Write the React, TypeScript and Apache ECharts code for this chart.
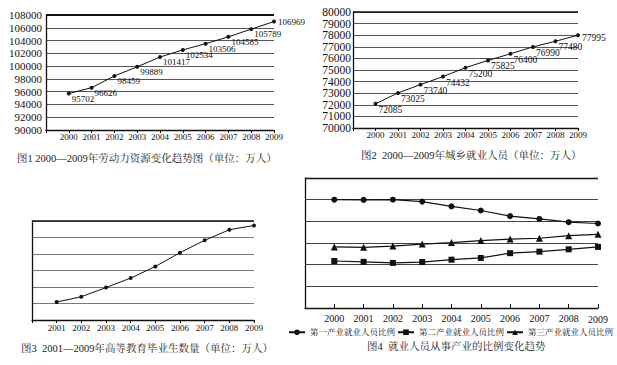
import React, { useEffect, useRef } from 'react';
import * as echarts from 'echarts';

const years10 = ['2000', '2001', '2002', '2003', '2004', '2005', '2006', '2007', '2008', '2009'];
const years9 = ['2001', '2002', '2003', '2004', '2005', '2006', '2007', '2008', '2009'];
const labourForce = [95702, 96626, 98459, 99889, 101417, 102534, 103506, 104585, 105789, 106969];
const employed = [72085, 73025, 73740, 74432, 75200, 75825, 76400, 76990, 77480, 77995];
const graduates = [109, 141, 197, 254, 324, 408, 483, 547, 573];
const primaryShare = [50.0, 49.9, 50.0, 49.1, 46.9, 45.0, 42.4, 41.1, 39.6, 39.0];
const secondaryShare = [21.7, 21.3, 20.8, 21.2, 22.3, 23.1, 25.3, 26.0, 27.1, 28.2];
const tertiaryShare = [28.2, 28.0, 28.6, 29.5, 30.2, 31.1, 31.8, 32.2, 33.4, 34.0];
const shareNames = ['第一产业就业人员比例', '第二产业就业人员比例', '第三产业就业人员比例'];
const captions = [
  '图1 2000—2009年劳动力资源变化趋势图（单位：万人）',
  '图2  2000—2009年城乡就业人员（单位：万人）',
  '图3  2001—2009年高等教育毕业生数量（单位：万人）',
  '图4  就业人员从事产业的比例变化趋势',
];

const FONT = "'Liberation Serif', 'Times New Roman', 'Noto Serif CJK SC', 'Noto Sans CJK SC', serif";
const INK = '#111';

function pad<T>(arr: T[]): (T | string)[] {
  return ['-', ...arr];
}

export default function App() {
  const ref = useRef<HTMLDivElement>(null);
  useEffect(() => {
    if (!ref.current) return;
    const chart = echarts.init(ref.current, null, { renderer: 'svg' });

    const catAxis = (gridIndex: number, cats: any[], fontSize: number, margin: number, tickInside: boolean) => ({
      type: 'category',
      gridIndex,
      data: ['', ...cats],
      boundaryGap: false,
      axisLine: { show: true, lineStyle: { color: INK, width: 1.3 } },
      axisTick: { show: true, inside: tickInside, length: tickInside ? 4 : 3, lineStyle: { color: INK } },
      axisLabel: { color: INK, fontSize, fontFamily: FONT, margin, interval: 0 },
      splitLine: { show: false },
    });

    const valAxis = (gridIndex: number, min: number, max: number, interval: number, showLabel: boolean, fontSize: number, margin: number, gridColor: string) => ({
      type: 'value',
      gridIndex,
      min,
      max,
      interval,
      axisLine: { show: true, lineStyle: { color: INK, width: 1.3 } },
      axisTick: { show: false },
      axisLabel: {
        show: showLabel,
        color: INK,
        fontSize,
        fontFamily: FONT,
        margin,
        showMinLabel: true,
        showMaxLabel: true,
        hideOverlap: false,
        formatter: (v: number) => String(v),
      },
      splitLine: { show: true, lineStyle: { color: gridColor, width: 1 } },
    });

    const topLine = (y: number, w: number) => ({
      silent: true,
      symbol: 'none',
      label: { show: false },
      lineStyle: { color: INK, width: w, type: 'solid' },
      data: [{ yAxis: y }],
    });

    const labelled = (vals: number[], lastOffset: number[]) =>
      pad(vals.map((v, i) => (i === vals.length - 1 ? { value: v, label: { offset: lastOffset } } : v)));

    const ext4 = years10.map((y, i) => (i === years10.length - 1 ? { value: y, textStyle: { padding: [2, 0, 0, 0] } } : y));

    const option: any = {
      animation: false,
      backgroundColor: '#fff',
      title: [
        { text: captions[0], left: 12, top: 148 },
        { text: captions[1], left: 356, top: 145 },
        { text: captions[2], left: 16, top: 338 },
        { text: captions[3], left: 362, top: 336 },
      ].map((t) => ({ ...t, textStyle: { fontSize: 10.5, fontWeight: 'normal', color: '#222', fontFamily: FONT } })),
      legend: {
        left: 288,
        top: 328,
        width: 329,
        padding: 0,
        itemWidth: 16,
        itemHeight: 7,
        itemGap: 2,
        textStyle: { fontSize: 8.5, color: INK, fontFamily: FONT },
        data: shareNames,
      },
      grid: [
        { left: 46, top: 15, right: 343, bottom: 235 },
        { left: 353, top: 12, right: 39, bottom: 237 },
        { left: 32, top: 221, right: 363, bottom: 45 },
        { left: 305, top: 178, right: 19, bottom: 57 },
      ],
      xAxis: [
        catAxis(0, years10, 9, 2, false),
        catAxis(1, years10, 9, 2, false),
        catAxis(2, years9, 9, 3, false),
        catAxis(3, ext4, 10, 5, true),
      ],
      yAxis: [
        valAxis(0, 90000, 108000, 2000, true, 11, 4, '#555'),
        valAxis(1, 70000, 80000, 1000, true, 11.5, 2, '#555'),
        valAxis(2, 0, 600, 100, false, 9, 2, '#777'),
        valAxis(3, 0, 60, 10, false, 9, 2, '#444'),
      ],
      series: [
        {
          type: 'line',
          xAxisIndex: 0,
          yAxisIndex: 0,
          data: labelled(labourForce, [1, 0]),
          symbol: 'circle',
          symbolSize: 4,
          itemStyle: { color: INK },
          lineStyle: { color: INK, width: 1 },
          label: { show: true, position: 'right', distance: 1, offset: [0, 5], fontSize: 9, color: INK, fontFamily: FONT },
          markLine: topLine(108000, 2),
        },
        {
          type: 'line',
          xAxisIndex: 1,
          yAxisIndex: 1,
          data: labelled(employed, [1, 3]),
          symbol: 'circle',
          symbolSize: 4,
          itemStyle: { color: INK },
          lineStyle: { color: INK, width: 1 },
          label: { show: true, position: 'right', distance: 1, offset: [0, 6], fontSize: 9.5, color: INK, fontFamily: FONT },
          markLine: topLine(80000, 1.5),
        },
        {
          type: 'line',
          xAxisIndex: 2,
          yAxisIndex: 2,
          data: pad(graduates),
          symbol: 'circle',
          symbolSize: 4,
          itemStyle: { color: INK },
          lineStyle: { color: INK, width: 1 },
          markLine: topLine(600, 1.6),
        },
        {
          name: shareNames[0],
          type: 'line',
          xAxisIndex: 3,
          yAxisIndex: 3,
          data: pad(primaryShare),
          symbol: 'circle',
          symbolSize: 6,
          itemStyle: { color: INK },
          lineStyle: { color: INK, width: 1.2 },
          markLine: topLine(60, 1.4),
        },
        {
          name: shareNames[1],
          type: 'line',
          xAxisIndex: 3,
          yAxisIndex: 3,
          data: pad(secondaryShare),
          symbol: 'rect',
          symbolSize: 6,
          itemStyle: { color: INK },
          lineStyle: { color: INK, width: 1.2 },
        },
        {
          name: shareNames[2],
          type: 'line',
          xAxisIndex: 3,
          yAxisIndex: 3,
          data: pad(tertiaryShare),
          symbol: 'triangle',
          symbolSize: 7,
          itemStyle: { color: INK },
          lineStyle: { color: INK, width: 1.2 },
        },
      ],
    };
    chart.setOption(option);
    return () => chart.dispose();
  }, []);

  return <div ref={ref} style={{ position: 'fixed', left: 0, top: 0, width: 617, height: 365 }} />;
}
